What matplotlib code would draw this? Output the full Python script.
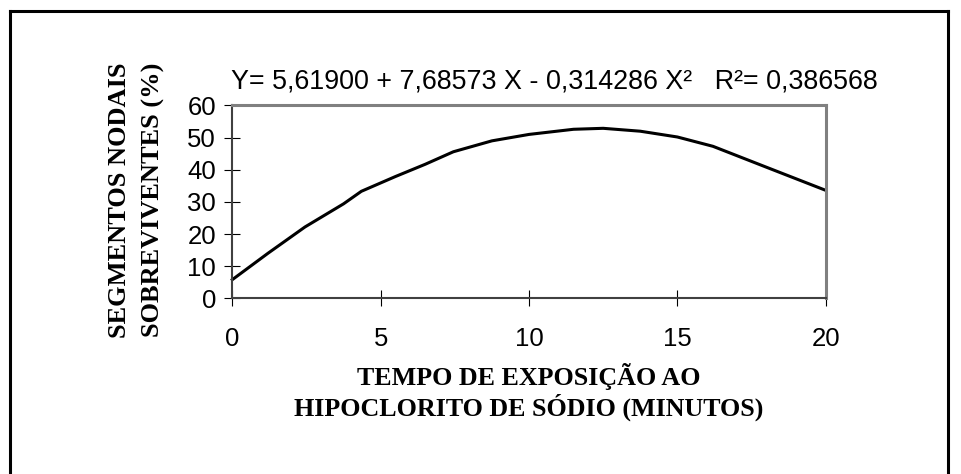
import matplotlib.pyplot as plt
from matplotlib.lines import Line2D

# readings from the reference curve (minutes, % surviving)
tempo = [0, 1.2, 2.45, 3.75, 4.35, 5.5, 6.5, 7.45, 8.75, 10.0, 11.5, 12.5, 13.75, 15.0, 16.2, 18.0, 20.0]
sobreviventes = [5.8, 14.0, 22.2, 29.4, 33.3, 37.9, 41.7, 45.6, 49.0, 51.0, 52.6, 52.9, 52.0, 50.2, 47.3, 40.8, 33.6]
xticks = [0, 5, 10, 15, 20]
yticks = [0, 10, 20, 30, 40, 50, 60]

equacao = "Y= 5,61900 + 7,68573 X - 0,314286 X²   R²= 0,386568"
ylabel_l1 = "SEGMENTOS NODAIS"
ylabel_l2 = "SOBREVIVENTES (%)"
xlabel_l1 = "TEMPO DE EXPOSIÇÃO AO"
xlabel_l2 = "HIPOCLORITO DE SÓDIO (MINUTOS)"

W, H = 961, 474
fig = plt.figure(figsize=(W / 100, H / 100), dpi=100)
ax = fig.add_axes([232.3 / W, 1 - 298.3 / H, (825.7 - 232.3) / W, (298.3 - 105.5) / H])

ax.plot(tempo, sobreviventes, color="black", lw=2.2, solid_joinstyle="round", clip_on=False)
ax.set_xlim(0, 20)
ax.set_ylim(0, 60)
ax.set_xticks(xticks)
ax.set_yticks(yticks)
ax.tick_params(direction="inout", length=11.5, width=0.8, color="black", labelsize=18.5)
ax.tick_params(axis="x", pad=15)
ax.tick_params(axis="y", pad=6)
for lab in ax.get_xticklabels() + ax.get_yticklabels():
    lab.set_family("Liberation Sans")

for s in ["left", "bottom"]:
    ax.spines[s].set_color("#404040")
    ax.spines[s].set_linewidth(1.5)
for s in ["top", "right"]:
    ax.spines[s].set_color("#808080")
    ax.spines[s].set_linewidth(2.2)

fig.text(231 / W, 1 - 82 / H, equacao, ha="left", va="center",
         family="Liberation Sans", fontsize=19.4)

serif = dict(family="Liberation Serif", weight="bold", fontsize=19,
             rotation=90, ha="center", va="center")
fig.text(120 / W, 1 - 200 / H, ylabel_l1, **serif)
fig.text(153 / W, 1 - 200 / H, ylabel_l2, **serif)

serif_h = dict(family="Liberation Serif", weight="bold", fontsize=18.7,
               ha="center", va="center")
fig.text(529 / W, 1 - 377 / H, xlabel_l1, **serif_h)
fig.text(529 / W, 1 - 407 / H, xlabel_l2, **serif_h)

# outer frame (left, top, right)
fx0, fx1, fy0 = 10 / W, 948 / W, 1 - 11 / H
for xs, ys in [([fx0, fx0], [0, fy0]), ([fx0, fx1], [fy0, fy0]), ([fx1, fx1], [fy0, 0])]:
    fig.add_artist(Line2D(xs, ys, color="black", lw=2.2, transform=fig.transFigure))

fig.savefig("out.png", dpi=100)
